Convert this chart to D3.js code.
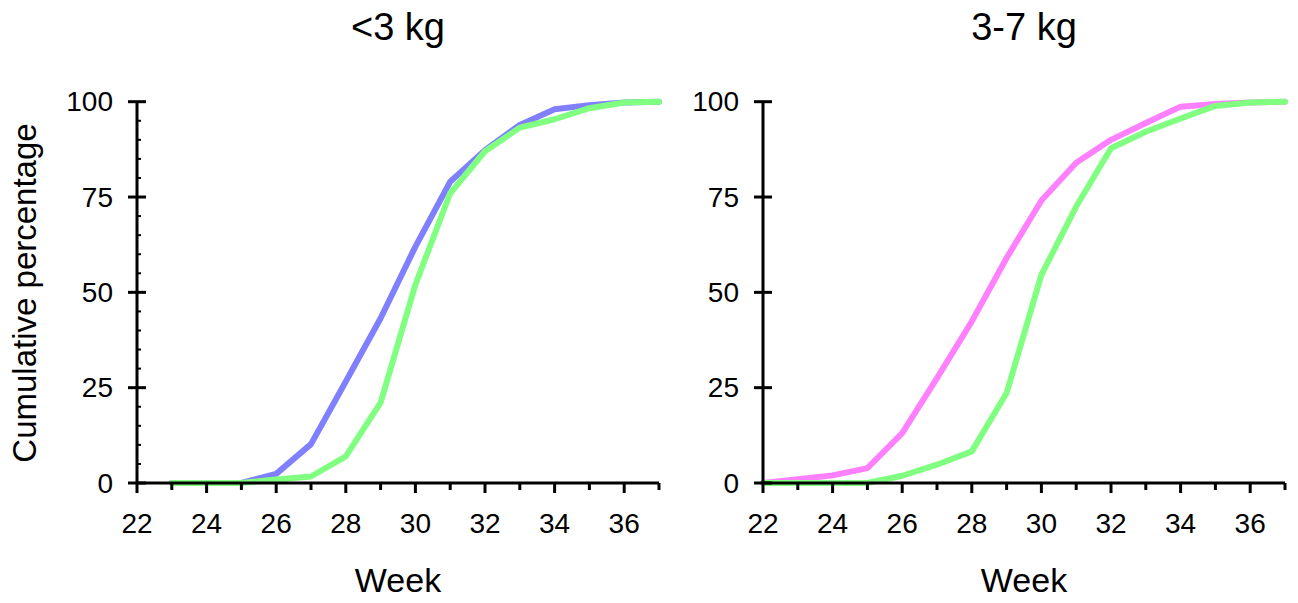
<!DOCTYPE html>
<html>
<head>
<meta charset="utf-8">
<script src="https://cdn.jsdelivr.net/npm/d3@7"></script>
<style>
  html, body { margin: 0; padding: 0; background: #fff; }
  svg { display: block; font-family: "Liberation Sans", Arial, sans-serif; }
</style>
</head>
<body>
<svg id="chart" width="1298" height="603"></svg>
<script>
// ---- Data ----
const panelTitles = ["<3 kg", "3-7 kg"];
const weeksLeft = [23, 24, 25, 26, 27, 28, 29, 30, 31, 32, 33, 34, 35, 36, 37];
const leftBlue  = [0, 0, 0, 2.4, 10.2, 26.6, 43.2, 62, 79, 87.3, 93.9, 98, 99.1, 99.8, 100];
const leftGreen = [0, 0, 0, 0.9, 1.7, 7, 21.1, 52, 76, 87, 93.2, 95.4, 98.3, 99.8, 100];
const weeksRight = [22, 23, 24, 25, 26, 27, 28, 29, 30, 31, 32, 33, 34, 35, 36, 37];
const rightPink  = [0, 1.0, 2.0, 3.9, 13.1, 27.5, 42.4, 59, 74.1, 84, 90, 94.4, 98.7, 99.4, 99.8, 100];
const rightGreen = [0, 0, 0, 0, 1.9, 4.8, 8.3, 23.6, 54.6, 72.5, 87.8, 92.1, 95.6, 98.9, 99.8, 100];
const xTickLabels = [22, 24, 26, 28, 30, 32, 34, 36];
const xMinorTicks = [23, 25, 27, 29, 31, 33, 35, 37];
const yTickLabels = [0, 25, 50, 75, 100];
const yMinorTicks = [5, 10, 15, 20, 30, 35, 40, 45, 55, 60, 65, 70, 80, 85, 90, 95];
const xLabel = "Week";
const yLabel = "Cumulative percentage";

(function () {
const svg = d3.select("#chart");
const plotTop = 101.7, plotBottom = 483;

const panels = [
  { x0: 137, x1: 659, title: panelTitles[0], minorY: true,
    series: [ { w: weeksLeft, v: leftBlue, c: "#8080FF" }, { w: weeksLeft, v: leftGreen, c: "#80FF80" } ] },
  { x0: 763, x1: 1285, title: panelTitles[1], minorY: false,
    series: [ { w: weeksRight, v: rightPink, c: "#FF80FF" }, { w: weeksRight, v: rightGreen, c: "#80FF80" } ] }
];

panels.forEach(p => {
  const x = d3.scaleLinear().domain([22, 37]).range([p.x0, p.x1]);
  const y = d3.scaleLinear().domain([0, 100]).range([plotBottom, plotTop]);
  const g = svg.append("g");

  // lines
  const line = d3.line().x(d => x(d[0])).y(d => y(d[1]));
  p.series.forEach(s => {
    g.append("path")
      .datum(s.w.map((w, i) => [w, s.v[i]]))
      .attr("d", line)
      .attr("fill", "none")
      .attr("stroke", s.c)
      .attr("stroke-width", 6)
      .attr("stroke-linecap", "round")
      .attr("stroke-linejoin", "round");
  });

  // axes lines
  g.append("line").attr("x1", x(22)).attr("x2", x(37)).attr("y1", y(0)).attr("y2", y(0))
    .attr("stroke", "#000").attr("stroke-width", 3);
  g.append("line").attr("x1", x(22)).attr("x2", x(22)).attr("y1", y(100)).attr("y2", y(0))
    .attr("stroke", "#000").attr("stroke-width", 3);

  // x ticks
  g.selectAll(".xmaj").data(xTickLabels).enter().append("line")
    .attr("x1", d => x(d)).attr("x2", d => x(d)).attr("y1", y(0)).attr("y2", y(0) + 10)
    .attr("stroke", "#000").attr("stroke-width", 3);
  g.selectAll(".xmin").data(xMinorTicks).enter().append("line")
    .attr("x1", d => x(d)).attr("x2", d => x(d)).attr("y1", y(0)).attr("y2", y(0) + 7)
    .attr("stroke", "#000").attr("stroke-width", 3);
  g.selectAll(".xlab").data(xTickLabels).enter().append("text")
    .attr("x", d => x(d)).attr("y", y(0) + 50)
    .attr("text-anchor", "middle").attr("font-size", 28).text(d => d);

  // y ticks
  g.selectAll(".ymaj").data(yTickLabels).enter().append("line")
    .attr("x1", x(22) - 9).attr("x2", x(22) + 9).attr("y1", d => y(d)).attr("y2", d => y(d))
    .attr("stroke", "#000").attr("stroke-width", 3);
  if (p.minorY) {
    g.selectAll(".ymin").data(yMinorTicks).enter().append("line")
      .attr("x1", x(22)).attr("x2", x(22) + 4).attr("y1", d => y(d)).attr("y2", d => y(d))
      .attr("stroke", "#000").attr("stroke-width", 2);
  }
  g.selectAll(".ylab").data(yTickLabels).enter().append("text")
    .attr("x", x(22) - 24).attr("y", d => y(d) + 9.5)
    .attr("text-anchor", "end").attr("font-size", 28).text(d => d);

  // title
  g.append("text").attr("x", (p.x0 + p.x1) / 2).attr("y", 40)
    .attr("text-anchor", "middle").attr("font-size", 38).text(p.title);
  // x label
  g.append("text").attr("x", (p.x0 + p.x1) / 2).attr("y", 592)
    .attr("text-anchor", "middle").attr("font-size", 34).text(xLabel);
});

svg.append("text")
  .attr("transform", "translate(36,293) rotate(-90)")
  .attr("text-anchor", "middle").attr("font-size", 33).text(yLabel);
})();
</script>
</body>
</html>
